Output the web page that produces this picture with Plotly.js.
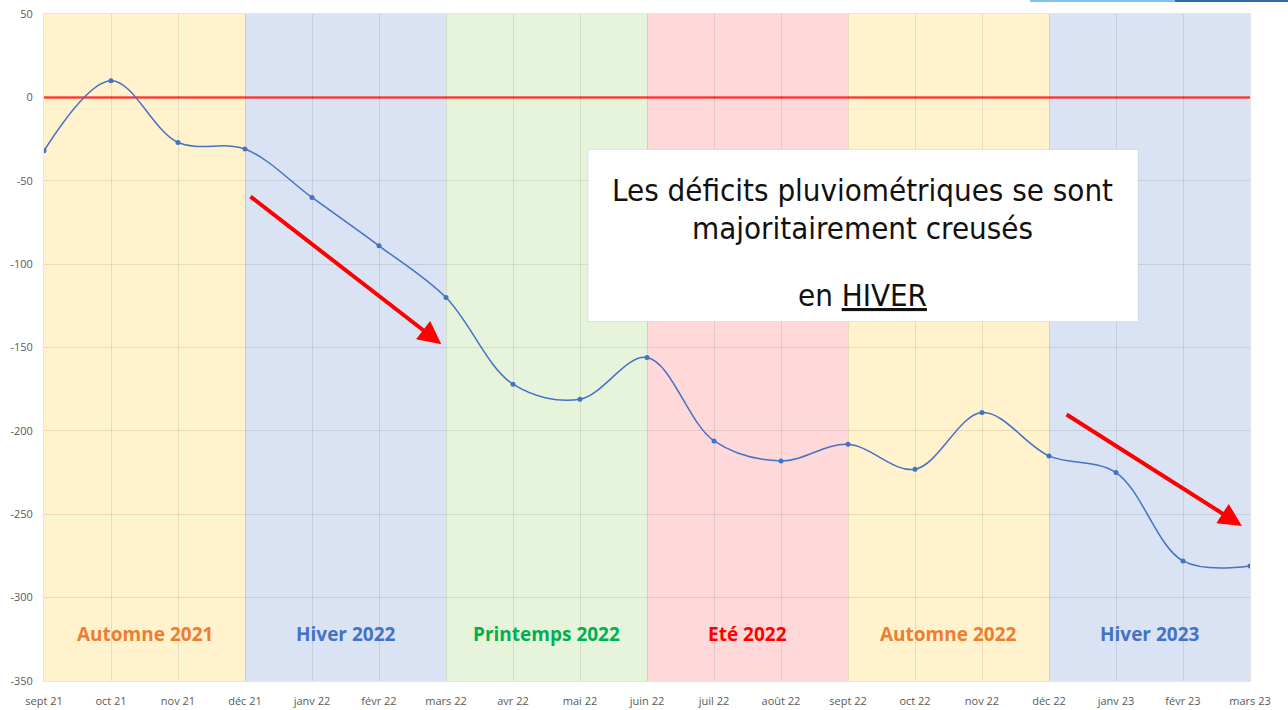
<!DOCTYPE html>
<html><head><meta charset="utf-8">
<script src="https://cdn.plot.ly/plotly-3.0.1.min.js"></script>
<style>html,body{margin:0;padding:0;background:#fff}#chart{width:1288px;height:710px}</style>
</head><body><div id="chart"></div>
<script>
const months = ["sept 21","oct 21","nov 21","déc 21","janv 22","févr 22","mars 22","avr 22","mai 22","juin 22","juil 22","août 22","sept 22","oct 22","nov 22","déc 22","janv 23","févr 23","mars 23"];
const deficit = [-32, 10, -27, -31, -60, -89, -120, -172, -181, -156, -206, -218, -208, -223, -189, -215, -225, -278, -281];
const yTickVals = [50, 0, -50, -100, -150, -200, -250, -300, -350];
const yTickText = ["50", "0", "-50", "-100", "-150", "-200", "-250", "-300", "-350"];
const seasonNames = ["Automne 2021","Hiver 2022","Printemps 2022","Eté 2022","Automne 2022","Hiver 2023"];
const seasonStart = [0, 3, 6, 9, 12, 15];
const seasonEnd = [3, 6, 9, 12, 15, 18];
const seasonFill = ["#FFF2CC","#DAE3F3","#E7F4DC","#FFD9D9","#FFF2CC","#DAE3F3"];
const seasonText = ["#ED7D31","#4472C4","#00B050","#FF0000","#ED7D31","#4472C4"];

const shapes = [];
const annotations = [];
seasonNames.forEach((s,i)=>{
  shapes.push({type:'rect', xref:'x', yref:'paper', x0:seasonStart[i], x1:seasonEnd[i], y0:0, y1:1,
    fillcolor:seasonFill[i], line:{width:0}, layer:'below'});
  annotations.push({x:(seasonStart[i]+seasonEnd[i])/2, y:-322, xref:'x', yref:'y', text:'<b>'+s+'</b>',
    showarrow:false, font:{family:'Open Sans', size:19, color:seasonText[i]}});
});
// zero line
shapes.push({type:'line', xref:'paper', yref:'y', x0:0, x1:1, y0:0, y1:0, line:{color:'rgba(255,40,40,0.85)', width:2.5}, layer:'below'});
// text box
shapes.push({type:'rect', xref:'x', yref:'y', x0:8.12, x1:16.33, y0:-31.2, y1:-134.4, fillcolor:'#ffffff', line:{color:'rgba(0,0,0,0.08)', width:1}, layer:'above'});
// top-right artefact bars
shapes.push({type:'rect', xref:'paper', yref:'paper', x0:(1030-44)/1206, x1:(1175-44)/1206, y0:1+12/667, y1:1+14/667, fillcolor:'#7FC4EE', line:{width:0}});
shapes.push({type:'rect', xref:'paper', yref:'paper', x0:(1175-44)/1206, x1:(1288-44)/1206, y0:1+12/667, y1:1+14/667, fillcolor:'#2E6BA8', line:{width:0}});

const boxFont = {family:'DejaVu Sans Condensed', size:31, color:'#111'};
annotations.push({x:12.22, y:-55.5, xref:'x', yref:'y', text:'Les déficits pluviométriques se sont', showarrow:false, font:boxFont});
annotations.push({x:12.22, y:-78.5, xref:'x', yref:'y', text:'majoritairement creusés', showarrow:false, font:boxFont});
annotations.push({x:12.22, y:-118.5, xref:'x', yref:'y', text:'en <span style="text-decoration:underline">HIVER</span>', showarrow:false, font:boxFont});

// arrows
annotations.push({x:5.93, y:-148, ax:3.06, ay:-58.8, xref:'x', yref:'y', axref:'x', ayref:'y', text:'', showarrow:true,
  arrowhead:2, arrowsize:1.15, arrowwidth:4, arrowcolor:'#FF0000'});
annotations.push({x:17.88, y:-257, ax:15.24, ay:-189.6, xref:'x', yref:'y', axref:'x', ayref:'y', text:'', showarrow:true,
  arrowhead:2, arrowsize:1.15, arrowwidth:4, arrowcolor:'#FF0000'});

const trace = {x:months, y:deficit, type:'scatter', mode:'lines+markers',
  line:{color:'#4472C4', width:1.5, shape:'spline', smoothing:1}, marker:{color:'#4472C4', size:5}, hoverinfo:'x+y'};

const layout = {
  width:1288, height:710, margin:{l:44, r:38, t:14, b:29}, paper_bgcolor:'#fff', plot_bgcolor:'#fff',
  showlegend:false,
  xaxis:{type:'category', range:[0,18], showgrid:true, gridcolor:'rgba(0,0,0,0.09)', zeroline:false, ticklabelstandoff:10,
    tickfont:{family:'Open Sans', size:11, color:'#595959'}, ticks:'', showline:true, linecolor:'rgba(0,0,0,0.1)', mirror:true},
  yaxis:{range:[-350,50], tickvals:yTickVals, ticktext:yTickText, showgrid:true, gridcolor:'rgba(0,0,0,0.09)', zeroline:false, ticklabelstandoff:8,
    tickfont:{family:'Open Sans', size:11, color:'#595959'}, ticks:'', showline:true, linecolor:'rgba(0,0,0,0.1)', mirror:true},
  shapes:shapes, annotations:annotations
};
Plotly.newPlot('chart', [trace], layout, {displayModeBar:false, staticPlot:true});
</script></body></html>
